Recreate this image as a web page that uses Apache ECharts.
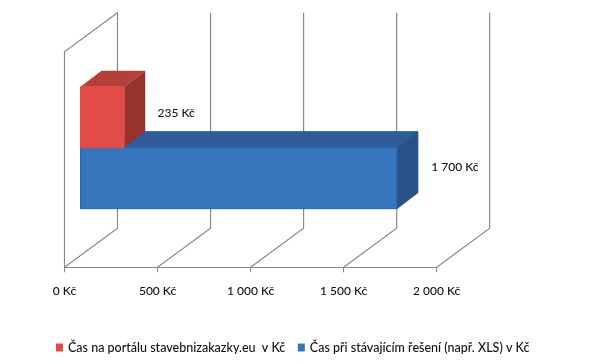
<!DOCTYPE html>
<html>
<head>
<meta charset="utf-8">
<script src="https://cdn.jsdelivr.net/npm/echarts@6/dist/echarts.min.js"></script>
<style>
	html,body{margin:0;padding:0;background:#fff;}
	#main{width:600px;height:364px;}
</style>
</head>
<body>
<div id="main"></div>
<script>
	const seriesNames = ['Čas na portálu stavebnizakazky.eu  v Kč', 'Čas při stávajícím řešení (např. XLS) v Kč']
	const seriesValues = [235, 1700]
	const valueLabels = ['235 Kč', '1 700 Kč']
	const tickValues = [0, 500, 1000, 1500, 2000]
	const tickLabels = ['0 Kč', '500 Kč', '1 000 Kč', '1 500 Kč', '2 000 Kč']

	const font = 'Lato'
	const textColor = '#111111'
	const lineColor = '#8a8a8a'
	const wall = { dx: 53, dy: -39 }   // depth of the whole 3D box
	const front = { dx: 16, dy: -11.8 } // where the bars start inside the box
	const depth = { dx: 21, dy: -16 }  // depth of a bar
	const barHeight = 61

	const colors = [
		{ front: '#E24C47', top: '#B5403A', side: '#98322D', edge: '#E24C47' },
		{ front: '#3674BC', top: '#305C97', side: '#2A5289', edge: '#1F6BBA' },
	]

	function poly(points, color, edge){
		return {
			type: 'polygon',
			shape: { points: points },
			style: { fill: color, stroke: edge || color, lineWidth: edge ? 1 : 0 },
		}
	}

	// one 3D bar: front face, top and right side
	function barItem(index, labelOffset){
		return function(params, api){
			let start = api.coord([0, 0])
			let end = api.coord([api.value(0), 0])
			let x0 = start[0] + front.dx
			let x1 = end[0] + front.dx
			let mid = start[1] + front.dy
			let y0 = index == 0 ? mid - barHeight : mid
			let y1 = y0 + barHeight
			let c = colors[index]
			return {
				type: 'group',
				children: [
					poly([[x0, y0], [x1, y0], [x1 + depth.dx, y0 + depth.dy], [x0 + depth.dx, y0 + depth.dy]], c.top, index == 1 ? '#1F5A9E' : null),
					poly([[x1, y0], [x1 + depth.dx, y0 + depth.dy], [x1 + depth.dx, y1 + depth.dy], [x1, y1]], c.side, index == 1 ? '#1F5A9E' : null),
					poly([[x0, y0], [x1, y0], [x1, y1], [x0, y1]], c.front, c.edge),
					{
						type: 'text',
						style: {
							text: valueLabels[index],
							x: x1 + labelOffset[0],
							y: (y0 + y1) / 2 + labelOffset[1],
							align: 'center',
							verticalAlign: 'middle',
							font: '500 12px ' + font,
							fill: textColor,
						},
					},
				],
			}
		}
	}

	// gridline of the walls: floor diagonal + back wall, first tick gets the left wall too
	function wallItem(params, api){
		let sys = params.coordSys
		let x = api.coord([api.value(0), 0])[0]
		let floor = sys.y + sys.height
		let points = [[x, floor], [x + wall.dx, floor + wall.dy], [x + wall.dx, sys.y + wall.dy]]
		if( api.value(0) == 0 ){
			points.push([x, sys.y], [x, floor])
		}
		return {
			type: 'polyline',
			shape: { points: points },
			style: { fill: null, stroke: lineColor, lineWidth: 1.2 },
		}
	}

	let option = {
		animation: false,
		backgroundColor: '#ffffff',
		color: [colors[0].front, colors[1].front],
		grid: { left: 64.5, top: 51.7, width: 372.2, height: 215.6 },
		xAxis: {
			type: 'value',
			min: 0,
			max: 2000,
			interval: 500,
			splitLine: { show: false },
			axisLine: { show: true, lineStyle: { color: lineColor, width: 1 } },
			axisTick: { show: true, length: 5, lineStyle: { color: lineColor, width: 1 } },
			axisLabel: {
				margin: 18,
				color: textColor,
				fontFamily: font,
				fontSize: 12,
				fontWeight: 500,
				formatter: function(value){
					return tickLabels[tickValues.indexOf(value)]
				},
			},
		},
		yAxis: { type: 'category', data: [''], show: false },
		legend: {
			left: 56,
			top: 341,
			itemWidth: 7,
			itemHeight: 8,
			itemGap: 12.5,
			padding: 0,
			icon: 'rect',
			data: seriesNames,
			textStyle: { color: textColor, fontFamily: font, fontSize: 12.5, fontWeight: 500 },
		},
		series: [
			{
				type: 'custom',
				silent: true,
				z: 1,
				data: tickValues.map((v) => [v]),
				encode: { x: 0 },
				renderItem: wallItem,
			},
			{
				name: seriesNames[0],
				type: 'custom',
				z: 4,
				clip: false,
				itemStyle: { color: colors[0].front },
				data: [[seriesValues[0], 0]],
				encode: { x: 0, y: 1 },
				renderItem: barItem(0, [52, -4]),
			},
			{
				name: seriesNames[1],
				type: 'custom',
				z: 3,
				clip: false,
				itemStyle: { color: colors[1].front },
				data: [[seriesValues[1], 0]],
				encode: { x: 0, y: 1 },
				renderItem: barItem(1, [58, -11.5]),
			},
		],
	}

	let myChart = echarts.init(document.getElementById('main'))
	myChart.setOption(option)
</script>
</body>
</html>
